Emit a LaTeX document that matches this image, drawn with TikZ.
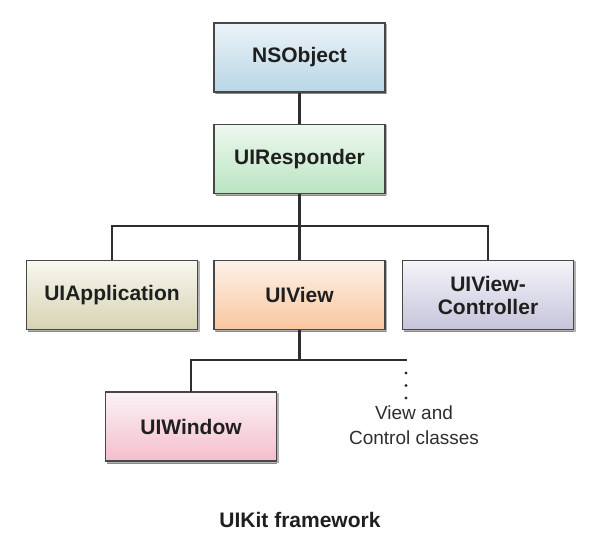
\documentclass[tikz,border=0pt]{standalone}
\usepackage{fontspec}
\setmainfont{Liberation Sans}
\begin{document}
\begin{tikzpicture}[x=1pt,y=-1pt,
  box/.style={draw=black!72, line width=1.8pt, minimum width=171pt, minimum height=69pt,
    inner sep=0pt, align=center, font=\fontsize{21}{23}\selectfont\bfseries, text=black!88},
  conn/.style={draw=black!82, line width=2.2pt},
  shad/.style={fill=black!35, draw=none}]
\useasboundingbox (0,0) rectangle (608,556);
% shadows
\foreach \cx/\cy in {299.5/57.5, 299.5/159, 112/295, 299.5/295, 488/295, 191/426.5}
  \fill[black!30] (\cx-84.5,\cy-33.5) rectangle (\cx+87.5,\cy+36.5);
\foreach \cx/\cy in {299.5/57.5, 299.5/159, 112/295, 299.5/295, 488/295, 191/426.5}
  \draw[color={rgb,255:red,120;green,130;blue,210}, line width=1pt] (\cx-84,\cy+36.5) -- (\cx+86,\cy+36.5);
\node[box, top color={rgb,255:red,236;green,243;blue,248}, bottom color={rgb,255:red,184;green,214;blue,229}] (ns) at (299.5,57.5) {NSObject};
\node[box, top color={rgb,255:red,238;green,248;blue,239}, bottom color={rgb,255:red,186;green,228;blue,194}] (ur) at (299.5,159) {UIResponder};
\node[box, top color={rgb,255:red,248;green,248;blue,238}, bottom color={rgb,255:red,214;green,211;blue,180}] (ua) at (112,295) {UIApplication};
\node[box, top color={rgb,255:red,253;green,242;blue,233}, bottom color={rgb,255:red,249;green,198;blue,158}] (uv) at (299.5,295) {UIView};
\node[box, top color={rgb,255:red,244;green,244;blue,250}, bottom color={rgb,255:red,198;green,196;blue,218}] (uvc) at (488,295) {UIView-\\Controller};
\node[box, top color={rgb,255:red,251;green,242;blue,245}, bottom color={rgb,255:red,244;green,190;blue,204}] (uw) at (191,426.5) {UIWindow};
\coordinate (hub) at (299.5,226);
\coordinate (sub) at (299.5,360);
\coordinate (vc) at (406,360);
\coordinate (vcend) at (406,399);
\draw[conn] (ns.south) -- (ur.north);
\draw[conn] (ur.south) -- (uv.north);
\draw[conn] (ua.north) |- (hub) -| (uvc.north);
\draw[conn] (uv.south) -- (sub);
\draw[conn, line cap=rect] (uw.north) |- (vc);
\draw[draw=black!82, line width=3.4pt, line cap=round, dash pattern=on 0pt off 12.5pt] ([yshift=-13pt]vc) -- (vcend);
\node[align=center, font=\fontsize{19}{25}\selectfont, text=black!82] (vct) at (414,425) {View and\\Control classes};
\node[font=\fontsize{21}{23}\selectfont\bfseries, text=black!88] (cap) at (300,520) {UIKit framework};
\end{tikzpicture}
\end{document}
